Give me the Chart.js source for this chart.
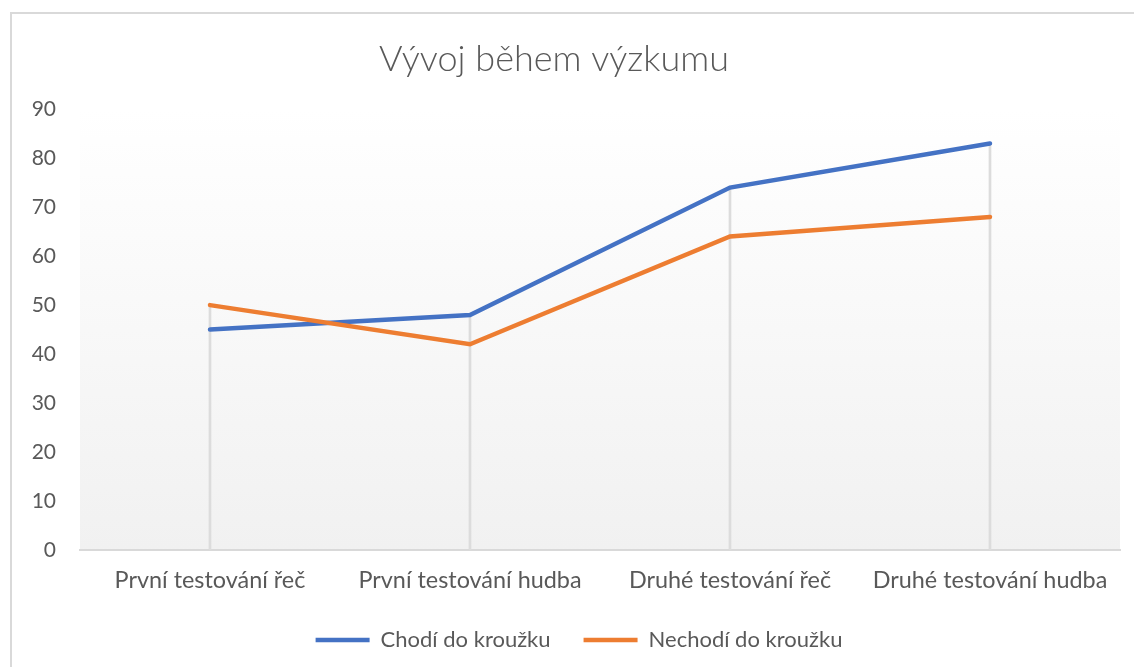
<!DOCTYPE html>
<html>
<head>
<meta charset="utf-8">
<script src="https://cdn.jsdelivr.net/npm/chart.js@4/dist/chart.umd.min.js"></script>
<style>
    html, body { margin: 0; padding: 0; background: #fff; overflow: hidden; }
    .frame { position: absolute; left: 10px; top: 12px; width: 1200px; height: 700px; border: 2px solid #d9d9d9; }
    .wrap { position: absolute; left: 0; top: 0; width: 1134px; height: 667px; }
</style>
</head>
<body>
<div class="frame"></div>
<div class="wrap"><canvas id="vyvojChart"></canvas></div>
<script>
const categories = ['První testování řeč', 'První testování hudba', 'Druhé testování řeč', 'Druhé testování hudba'];
const chodi = [45, 48, 74, 83];
const nechodi = [50, 42, 64, 68];
const yMin = 0;
const yMax = 90;
const yStep = 10;

// drop lines go from the axis up to the higher of the two values
const dropTops = categories.map((_, i) => Math.max(chodi[i], nechodi[i]));

const font = 'Lato, "Open Sans", sans-serif';
const textColor = '#595959';

const plotBackground = {
    id: 'plotBackground',
    beforeDraw(chart) {
        const { ctx, chartArea } = chart;
        const g = ctx.createLinearGradient(0, chartArea.top, 0, chartArea.bottom);
        g.addColorStop(0, '#ffffff');
        g.addColorStop(1, '#f1f1f1');
        ctx.save();
        ctx.fillStyle = g;
        ctx.fillRect(chartArea.left, chartArea.top, chartArea.right - chartArea.left, chartArea.bottom - chartArea.top);
        ctx.restore();
    },
};

// Excel does not centre title and legend on the canvas exactly
const nudge = {
    id: 'nudge',
    afterLayout(chart) {
        chart.titleBlock.left -= 6;
        chart.titleBlock.right -= 6;
        chart.legend.left += 19;
        chart.legend.right += 19;
    },
};

new Chart(document.getElementById('vyvojChart'), {
    type: 'line',
    data: {
        labels: categories,
        datasets: [
            {
                label: 'Chodí do kroužku',
                data: chodi,
                borderColor: '#4472c4',
                backgroundColor: '#4472c4',
                borderWidth: 4.5,
                pointRadius: 0,
                borderCapStyle: 'round',
                order: 1,
            },
            {
                label: 'Nechodí do kroužku',
                data: nechodi,
                borderColor: '#ed7d31',
                backgroundColor: '#ed7d31',
                borderWidth: 4.5,
                pointRadius: 0,
                borderCapStyle: 'round',
                order: 0,
            },
            {
                type: 'bar',
                label: 'drop',
                data: dropTops,
                backgroundColor: '#dcdcdc',
                barThickness: 2,
                order: 2,
            },
        ],
    },
    options: {
        responsive: true,
        maintainAspectRatio: false,
        animation: false,
        layout: { padding: { left: 0, right: 14, top: 0, bottom: 6 } },
        plugins: {
            title: {
                display: true,
                text: 'Vývoj během výzkumu',
                color: textColor,
                font: { family: font, size: 36, weight: '300' },
                padding: { top: 38, bottom: 28 },
            },
            legend: {
                position: 'bottom',
                labels: {
                    color: textColor,
                    font: { family: font, size: 22 },
                    usePointStyle: true,
                    pointStyle: 'line',
                    pointStyleWidth: 54,
                    padding: 33,
                    filter: (item) => item.datasetIndex < 2,
                    sort: (a, b) => a.datasetIndex - b.datasetIndex,
                },
            },
            tooltip: { enabled: false },
        },
        scales: {
            x: {
                offset: true,
                grid: { display: false, drawTicks: false },
                border: { display: true, color: '#d9d9d9', width: 2 },
                ticks: { color: textColor, font: { family: font, size: 23.4 }, padding: 16, maxRotation: 0 },
                afterFit: (scale) => { scale.height = 46; },
            },
            y: {
                min: yMin,
                max: yMax,
                grid: { display: false, drawTicks: false },
                border: { display: false },
                ticks: { stepSize: yStep, color: textColor, font: { family: font, size: 21 }, padding: 24 },
                afterFit: (scale) => { scale.width = 80; },
            },
        },
    },
    plugins: [plotBackground, nudge],
});
</script>
</body>
</html>
